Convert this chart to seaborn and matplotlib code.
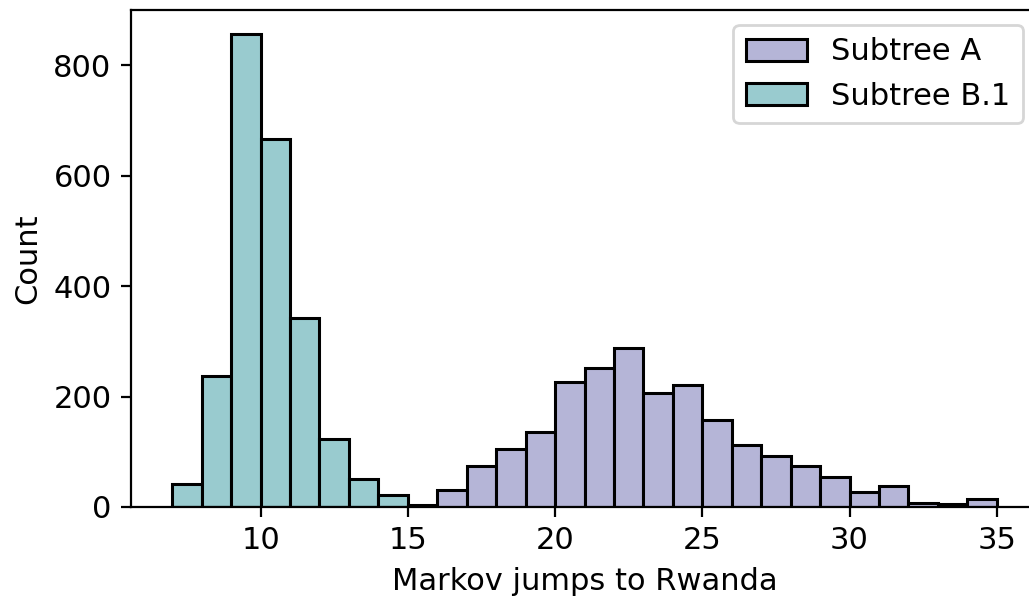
import numpy as np
import pandas as pd
import matplotlib
matplotlib.use("Agg")
import matplotlib.pyplot as plt
import seaborn as sns

# bin left edges (integer jumps) and counts per subtree
jumps_b1 = [7, 8, 9, 10, 11, 12, 13, 14]
counts_b1 = [41, 238, 856, 667, 343, 124, 50, 21]

jumps_a = [15, 16, 17, 18, 19, 20, 21, 22, 23, 24, 25, 26, 27, 28, 29, 30, 31, 32, 33, 34]
counts_a = [3, 30, 75, 105, 135, 226, 252, 288, 207, 221, 158, 113, 93, 74, 54, 27, 38, 8, 6, 15]

labels = ["Subtree A", "Subtree B.1"]
colors = {"Subtree A": "#b5b5d7", "Subtree B.1": "#99cbcf"}

df = pd.DataFrame({
    "jumps": [j + 0.5 for j in jumps_a] + [j + 0.5 for j in jumps_b1],
    "count": counts_a + counts_b1,
    "subtree": ["Subtree A"] * len(jumps_a) + ["Subtree B.1"] * len(jumps_b1),
})

fig = plt.figure(figsize=(1029 / 200, 598 / 200), dpi=200)
ax = fig.add_axes([131 / 1029, 1 - 507 / 598, (1038 - 131) / 1029, (507 - 10) / 598])

sns.histplot(data=df, x="jumps", weights="count", hue="subtree", hue_order=labels,
             binwidth=1, binrange=(7, 35), palette=colors, alpha=1, edgecolor="black",
             linewidth=1.1, ax=ax)

ax.set_xlabel("Markov jumps to Rwanda", fontsize=11)
ax.set_ylabel("Count", fontsize=11)
ax.tick_params(labelsize=11)
ax.set_xticks([10, 15, 20, 25, 30, 35])
ax.set_xlim(5.6, 36.4)
ax.set_ylim(0, 900)

sns.move_legend(ax, "upper right", title=None, fontsize=11)

fig.savefig("out.png", dpi=200)
